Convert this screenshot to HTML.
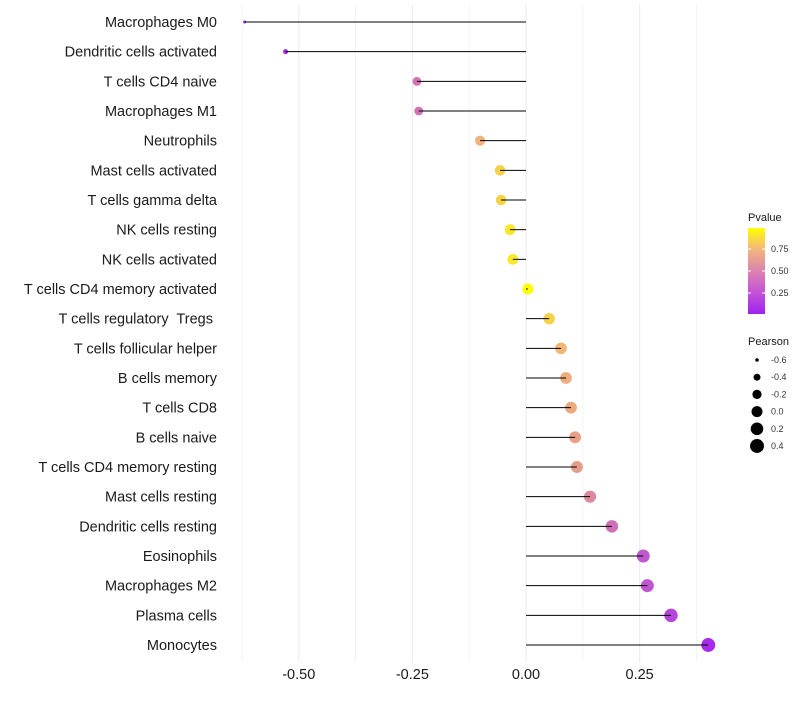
<!DOCTYPE html>
<html><head><meta charset="utf-8"><style>
body{margin:0;background:#fff;font-family:"Liberation Sans",sans-serif}
svg text{font-family:"Liberation Sans",sans-serif;white-space:pre}
</style></head><body>
<svg id="chart" width="800" height="700">
<defs><linearGradient id="pg" x1="0" y1="1" x2="0" y2="0">
<stop offset="0" stop-color="#a020f0"/><stop offset="0.25" stop-color="#c353d8"/><stop offset="0.5" stop-color="#dd83b0"/><stop offset="0.75" stop-color="#f2b57e"/><stop offset="1" stop-color="#ffff00"/></linearGradient></defs>
<g id="grid"></g><g id="marks"></g><g id="ylabels"></g><g id="xlabels"></g>
<g id="legend"></g>
</svg>
<script>
const categories=["Macrophages M0","Dendritic cells activated","T cells CD4 naive","Macrophages M1","Neutrophils","Mast cells activated","T cells gamma delta","NK cells resting","NK cells activated","T cells CD4 memory activated","T cells regulatory  Tregs ","T cells follicular helper","B cells memory","T cells CD8","B cells naive","T cells CD4 memory resting","Mast cells resting","Dendritic cells resting","Eosinophils","Macrophages M2","Plasma cells","Monocytes"];
const pearson=[-0.619,-0.529,-0.240,-0.236,-0.101,-0.057,-0.055,-0.035,-0.029,0.004,0.051,0.077,0.088,0.099,0.108,0.112,0.141,0.189,0.258,0.267,0.319,0.401];
const pvalue=[0.0,0.05,0.45,0.45,0.75,0.85,0.85,0.92,0.92,1.0,0.85,0.76,0.72,0.70,0.66,0.65,0.56,0.42,0.27,0.26,0.17,0.05];
const xTicks=[-0.5,-0.25,0,0.25];
const xMinor=[-0.625,-0.375,-0.125,0.125,0.375];
const pTicks=[0.25,0.5,0.75];
const sizeTicks=[-0.6,-0.4,-0.2,0.0,0.2,0.4];
const NS="http://www.w3.org/2000/svg";
function mk(t,a,p){const e=document.createElementNS(NS,t);for(const k in a)e.setAttribute(k,a[k]);p.appendChild(e);return e;}
const x=v=>526+v*454.5;
const y=i=>22+i*29.667;
const sMin=-0.62,sMax=0.41;
const r=v=>Math.sqrt(1.5*1.5+Math.max(0,(v-sMin)/(sMax-sMin))*(7*7-1.5*1.5));
const stops=[[0,[160,32,240]],[0.25,[190,85,210]],[0.5,[214,125,170]],[0.75,[240,180,120]],[1,[255,255,0]]];
function col(p){for(let i=1;i<stops.length;i++){if(p<=stops[i][0]){const a=stops[i-1],b=stops[i],t=(p-a[0])/(b[0]-a[0]);return 'rgb('+a[1].map((c,j)=>Math.round(c+(b[1][j]-c)*t)).join(',')+')';}}return 'rgb(255,255,0)';}
const grid=document.getElementById('grid');
xMinor.forEach(v=>{const l=mk('line',{x1:x(v),x2:x(v),y1:5,y2:662,stroke:'#f2f2f2','stroke-width':0.8},grid);});
xTicks.forEach(v=>{const l=mk('line',{x1:x(v),x2:x(v),y1:5,y2:662,stroke:'#ebebeb','stroke-width':1},grid);});
const marks=document.getElementById('marks'),yl=document.getElementById('ylabels'),xl=document.getElementById('xlabels');
categories.forEach((c,i)=>{
 const pt=mk('circle',{cx:x(pearson[i]),cy:y(i),r:r(pearson[i]),fill:col(pvalue[i])},marks);
 
 
 const s=mk('line',{x1:x(0),x2:x(pearson[i]),y1:y(i),y2:y(i),stroke:'#000','stroke-width':1},marks);
 
 
 const t=mk('text',{x:217,y:y(i)+5,'text-anchor':'end','font-size':14.5,fill:'#1a1a1a'},yl);t.textContent=c;
 
 
});
xTicks.forEach(v=>{const t=mk('text',{x:x(v),y:679,'text-anchor':'middle','font-size':14.5,fill:'#1a1a1a'},xl);t.textContent=v.toFixed(2);
 
 });
const lg=document.getElementById('legend');
let tt=mk('text',{x:748,y:221,'font-size':11,fill:'#1a1a1a'},lg);tt.textContent='Pvalue';
const bar=mk('rect',{x:748,y:228,width:17,height:86,fill:'url(#pg)'},lg);


pTicks.forEach(p=>{const yy=315-p*88;mk('line',{x1:748,x2:751,y1:yy,y2:yy,stroke:'#fff'},lg);mk('line',{x1:762,x2:765,y1:yy,y2:yy,stroke:'#fff'},lg);
 const t=mk('text',{x:771,y:yy+3,'font-size':9,fill:'#333'},lg);t.textContent=p.toFixed(2);});
tt=mk('text',{x:748,y:345,'font-size':11,fill:'#1a1a1a'},lg);tt.textContent='Pearson';
sizeTicks.forEach((v,i)=>{const yy=360+i*17.2;const c=mk('circle',{cx:757,cy:yy,r:r(v),fill:'#000'},lg);
 
 
 const t=mk('text',{x:771,y:yy+3,'font-size':9,fill:'#333'},lg);t.textContent=v.toFixed(1);});
</script>
</body></html>
